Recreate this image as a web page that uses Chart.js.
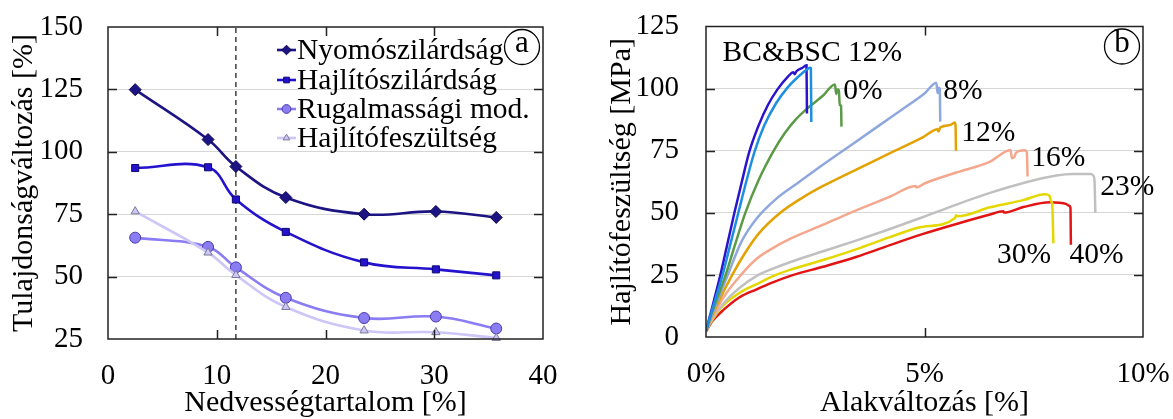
<!DOCTYPE html>
<html>
<head>
<meta charset="utf-8">
<script src="https://cdn.jsdelivr.net/npm/chart.js@4.4.1/dist/chart.umd.min.js"></script>
<style>
  html, body { margin: 0; padding: 0; background: #fff; }
  body { width: 1173px; height: 419px; overflow: hidden; position: relative; }
  canvas { position: absolute; top: 0; }
</style>
</head>
<body>
<canvas id="chartA" width="575" height="419" style="left:0"></canvas>
<canvas id="chartB" width="598" height="419" style="left:575px"></canvas>
<script>
// ---- (a) property change vs. moisture content ----
const moisture     = [2.5, 9.2, 11.76, 16.35, 23.55, 30.15, 35.7];
const nyomo        = [124.9, 104.9, 94.1, 81.7, 75.0, 76.1, 73.7];
const hajlitoSzil  = [93.5, 93.8, 80.9, 67.9, 55.7, 52.9, 50.5];
const rugalmassag  = [65.6, 61.9, 53.7, 41.5, 33.4, 34.0, 29.2];
const hajlitoFesz  = [76.1, 59.6, 50.6, 37.8, 28.4, 27.7, 25.4];
const fiberSatX    = 11.76;
const seriesNamesA = ['Nyomószilárdság', 'Hajlítószilárdság', 'Rugalmassági mod.', 'Hajlítófeszültség'];
const xTicksA = [0, 10, 20, 30, 40];
const yTicksA = [25, 50, 75, 100, 125, 150];

// ---- (b) bending stress–strain curves (strain %, stress MPa) ----
const bcDark  = [[0,2.5],[0.15,12.5],[0.33,25],[0.49,37.5],[0.65,50],[0.82,62.5],[0.99,74.5],[1.2,85],[1.42,93.5],[1.64,99.8],[1.85,104.3],[2.0,106.6],[2.03,105.8],[2.07,107],[2.2,108.3],[2.3,109.4],[2.31,90]];
const bcLight = [[0,2.5],[0.15,11.5],[0.38,25],[0.56,37.5],[0.74,50],[0.92,62.5],[1.11,74.5],[1.33,85],[1.6,94],[1.87,100.5],[2.1,104.6],[2.3,107.6],[2.38,108.4],[2.4,108.2],[2.41,86.6]];
const mc0  = [[0,2.5],[0.15,10.5],[0.45,25],[0.67,37.5],[0.9,50],[1.2,63],[1.55,75],[1.8,82],[2.05,87.5],[2.35,92.5],[2.68,97.2],[2.95,101.7],[2.98,97.8],[3.01,99.6],[3.04,99.3],[3.06,93.5],[3.09,93],[3.1,84.7]];
const mc8  = [[0,2.5],[0.15,9.5],[0.5,25],[0.8,38],[1.15,47.5],[1.6,55.5],[2.1,62],[2.65,69],[3.3,77],[3.95,85],[4.6,93],[5.0,98],[5.27,102.4],[5.3,98.2],[5.33,100.3],[5.35,99.8],[5.36,86.7]];
const mc12 = [[0,2.5],[0.15,9],[0.6,25],[0.9,34],[1.2,41.5],[1.7,50],[2.2,56],[2.68,60.8],[3.45,67.5],[4.21,74],[4.97,80.5],[5.3,83.6],[5.32,82.7],[5.36,84.3],[5.6,85.4],[5.69,86.4],[5.71,85.2],[5.72,75]];
const mc16 = [[0,2.5],[0.15,8],[0.4,16],[0.8,25],[1.16,31.5],[1.5,35.5],[1.92,39.5],[2.68,45.2],[3.3,50],[4.21,56.5],[4.8,60.8],[4.82,60.2],[5.0,61.8],[5.73,66.2],[6.5,70.6],[6.97,75.3],[7.0,72],[7.05,72.3],[7.1,74.3],[7.3,75.2],[7.34,74.5],[7.36,64.6]];
const mc23 = [[0,2.5],[0.15,7.5],[0.4,13.5],[0.77,19.8],[1.2,25],[1.5,27.3],[1.92,30.1],[2.68,34.5],[3.45,38.9],[4.21,43.5],[4.97,48.3],[5.73,53.3],[6.5,58],[7.26,62],[8.02,65],[8.39,65.6],[8.81,65.6],[8.87,64.8],[8.89,63],[8.91,49.9]];
const mc30 = [[0,2.5],[0.15,7],[0.4,12.8],[0.77,17.8],[1.16,21.3],[1.6,25],[1.92,27],[2.68,31],[3.45,35.4],[4.21,40.2],[4.97,44.4],[5.7,47.9],[5.72,49],[5.76,48.6],[6.5,52.2],[7.26,55.1],[7.76,57.5],[7.86,56.8],[7.9,54.5],[7.92,54],[7.95,37.7]];
const mc40 = [[0,2.2],[0.15,6.5],[0.4,10.9],[0.77,16],[1.16,19.2],[1.5,21.8],[2.0,25],[2.68,28.3],[3.45,32.3],[4.21,37],[4.97,41.5],[5.73,45.5],[6.5,49.3],[6.8,50.6],[6.82,50.1],[7.26,52.3],[7.87,54.2],[8.25,53.5],[8.31,52.8],[8.34,52],[8.35,37.1]];
const xTicksB = [0, 5, 10];
const yTicksB = [0, 25, 50, 75, 100, 125];

const SERIF = '"Liberation Serif", "Times New Roman", serif';
Chart.defaults.font.family = SERIF;
Chart.defaults.color = '#000';
Chart.defaults.animation = false;

const toXY = (xs, ys) => xs.map((x, i) => ({ x, y: ys[i] }));
const pairs = arr => arr.map(([x, y]) => ({ x, y }));

// box around the plot with short inward ticks on all four sides
const framePlugin = {
  id: 'frame',
  afterDraw(chart) {
    const { ctx, chartArea: a, scales: { x, y } } = chart;
    ctx.save();
    ctx.strokeStyle = '#222';
    ctx.lineWidth = 1.5;
    ctx.strokeRect(a.left, a.top, a.width, a.height);
    ctx.beginPath();
    x.ticks.forEach(t => {
      if (t.value <= x.min || t.value >= x.max) return;
      const px = Math.round(x.getPixelForValue(t.value)) + 0.5;
      ctx.moveTo(px, a.bottom); ctx.lineTo(px, a.bottom - 9);
      ctx.moveTo(px, a.top); ctx.lineTo(px, a.top + 9);
    });
    y.ticks.forEach(t => {
      if (t.value <= y.min || t.value >= y.max) return;
      const py = Math.round(y.getPixelForValue(t.value)) + 0.5;
      ctx.moveTo(a.left, py); ctx.lineTo(a.left + 9, py);
      ctx.moveTo(a.right, py); ctx.lineTo(a.right - 9, py);
    });
    ctx.stroke();
    ctx.restore();
  }
};

// circled panel letter in the upper-right corner
function panelLetter(letter, dx, dy) {
  return {
    id: 'panel' + letter,
    afterDraw(chart) {
      const { ctx, chartArea: a } = chart;
      const cx = a.right + dx, cy = a.top + dy;
      ctx.save();
      ctx.beginPath();
      ctx.arc(cx, cy, 17.5, 0, Math.PI * 2);
      ctx.fillStyle = '#fff';
      ctx.fill();
      ctx.lineWidth = 1.3;
      ctx.strokeStyle = '#000';
      ctx.stroke();
      ctx.fillStyle = '#000';
      ctx.font = '31px ' + SERIF;
      ctx.textAlign = 'center';
      ctx.textBaseline = 'middle';
      ctx.fillText(letter, cx, cy - 3);
      ctx.restore();
    }
  };
}

// line+marker legend drawn inside the plot
const legendPlugin = {
  id: 'inlineLegend',
  afterDatasetsDraw(chart) {
    const { ctx, chartArea: a } = chart;
    const x0 = a.left + 169, rowY = [23, 53, 82, 111];
    ctx.save();
    seriesNamesA.forEach((name, i) => {
      const ds = chart.data.datasets[i];
      const y = a.top + rowY[i];
      ctx.strokeStyle = ds.borderColor;
      ctx.lineWidth = ds.borderWidth;
      ctx.beginPath();
      ctx.moveTo(x0, y); ctx.lineTo(x0 + 19, y);
      ctx.stroke();
      ctx.fillStyle = ds.pointBackgroundColor;
      ctx.strokeStyle = ds.pointBorderColor;
      ctx.lineWidth = 1;
      Chart.helpers.drawPoint(ctx, { pointStyle: ds.pointStyle, radius: ds.pointRadius * 0.8, rotation: 0, borderWidth: 1 }, x0 + 9.5, y);
      ctx.fillStyle = '#000';
      ctx.font = '29.5px ' + SERIF;
      ctx.textAlign = 'left';
      ctx.textBaseline = 'middle';
      ctx.fillText(name, x0 + 20, y + 1);
    });
    ctx.restore();
  }
};

// end-of-curve text labels placed in data coordinates
const curveLabelText = ['BC&BSC 12%', '0%', '8%', '12%', '16%', '23%', '30%', '40%'];
const curveLabelAt   = [[0.38, 114.3], [3.14, 99], [5.43, 99], [5.84, 82.1], [7.44, 72.1], [9.02, 60.4], [6.66, 33], [8.32, 33]];
const curveLabelPlugin = {
  id: 'curveLabels',
  afterDatasetsDraw(chart) {
    const { ctx, scales: { x, y } } = chart;
    ctx.save();
    ctx.fillStyle = '#000';
    ctx.font = '29.5px ' + SERIF;
    ctx.textAlign = 'left';
    ctx.textBaseline = 'middle';
    curveLabelText.forEach((t, i) => {
      const [vx, vy] = curveLabelAt[i];
      ctx.fillText(t, x.getPixelForValue(vx), y.getPixelForValue(vy));
    });
    ctx.restore();
  }
};

const gridColor = (lo, hi) => c => (c.tick && (c.tick.value === lo || c.tick.value === hi)) ? 'rgba(0,0,0,0)' : '#d6d6d6';

// fixed axis boxes so the plot areas land where they should
const fixX = h => s => { s.height = h; s.paddingLeft = 0; s.paddingRight = 0; };
const fixY = w => s => { s.width = w; s.paddingTop = 0; s.paddingBottom = 0; };

// ---------- chart (a) ----------
const markerSeries = (label, ys, line, fill, edge, style, r, order) => ({
  label, data: toXY(moisture, ys),
  borderColor: line, borderWidth: 2.6, tension: 0.4,
  pointStyle: style, pointRadius: r, pointBackgroundColor: fill, pointBorderColor: edge, pointBorderWidth: 1,
  clip: false, order
});

new Chart(document.getElementById('chartA'), {
  type: 'line',
  data: {
    datasets: [
      markerSeries(seriesNamesA[0], nyomo,       '#1d1483', '#1d1483', '#0b0650', 'rectRot', 6, 1),
      markerSeries(seriesNamesA[1], hajlitoSzil, '#2412cc', '#2412cc', '#0e0870', 'rect', 5, 2),
      markerSeries(seriesNamesA[2], rugalmassag, '#8a7cf2', '#8a7cf2', '#4a3aa8', 'circle', 5.5, 4),
      markerSeries(seriesNamesA[3], hajlitoFesz, '#cdc6f6', '#cdc6f6', '#7a7a98', 'triangle', 4.8, 3),
      {
        label: 'fsp', data: [{ x: fiberSatX, y: yTicksA[0] }, { x: fiberSatX, y: yTicksA[yTicksA.length - 1] }],
        borderColor: '#222', borderWidth: 1.3, borderDash: [5, 4], pointRadius: 0, order: 10
      }
    ]
  },
  options: {
    responsive: false,
    layout: { padding: { top: 27, right: 32, left: 0, bottom: 0 } },
    plugins: { legend: { display: false }, tooltip: { enabled: false } },
    scales: {
      x: {
        type: 'linear', min: xTicksA[0], max: xTicksA[xTicksA.length - 1],
        afterBuildTicks: s => { s.ticks = xTicksA.map(v => ({ value: v })); },
        afterFit: fixX(80),
        grid: { display: false }, border: { display: false },
        ticks: { padding: 12, font: { size: 29 }, maxRotation: 0 },
        title: { display: true, text: 'Nedvességtartalom [%]', font: { size: 30, lineHeight: 1 }, padding: { top: 0, bottom: 0.5 } }
      },
      y: {
        min: yTicksA[0], max: yTicksA[yTicksA.length - 1],
        afterBuildTicks: s => { s.ticks = yTicksA.map(v => ({ value: v })); },
        afterFit: fixY(108),
        grid: { color: gridColor(25, 150), lineWidth: 1, drawTicks: false }, border: { display: false },
        ticks: { padding: 25, font: { size: 29 } },
        title: { display: true, text: 'Tulajdonságváltozás [%]', font: { size: 30, lineHeight: 1 }, padding: { top: 9, bottom: 0 } }
      }
    }
  },
  plugins: [framePlugin, legendPlugin, panelLetter('a', -21, 20)]
});

// ---------- chart (b) ----------
const curve = (pts, color, order) => ({
  data: pairs(pts), borderColor: color, borderWidth: 2.5, pointRadius: 0,
  cubicInterpolationMode: 'monotone', order
});

new Chart(document.getElementById('chartB'), {
  type: 'line',
  data: {
    datasets: [
      curve(bcLight, '#1c8fe0', 1),
      curve(bcDark,  '#2c14cc', 2),
      curve(mc0,  '#5b9a47', 3),
      curve(mc8,  '#8ea7dc', 4),
      curve(mc12, '#e4a202', 5),
      curve(mc16, '#f5a78d', 6),
      curve(mc23, '#c0c0c0', 7),
      curve(mc30, '#e4d800', 8),
      curve(mc40, '#e31414', 9)
    ]
  },
  options: {
    responsive: false,
    layout: { padding: { top: 26.5, right: 30, left: 0, bottom: 0 } },
    plugins: { legend: { display: false }, tooltip: { enabled: false } },
    scales: {
      x: {
        type: 'linear', min: xTicksB[0], max: xTicksB[xTicksB.length - 1],
        afterBuildTicks: s => { s.ticks = xTicksB.map(v => ({ value: v })); },
        afterFit: fixX(82),
        grid: { display: false }, border: { display: false },
        ticks: { padding: 12, font: { size: 29 }, maxRotation: 0, callback: v => v + '%' },
        title: { display: true, text: 'Alakváltozás [%]', font: { size: 30, lineHeight: 1 }, padding: { top: 0, bottom: 1 } }
      },
      y: {
        min: yTicksB[0], max: yTicksB[yTicksB.length - 1],
        afterBuildTicks: s => { s.ticks = yTicksB.map(v => ({ value: v })); },
        afterFit: fixY(131),
        grid: { color: gridColor(0, 125), lineWidth: 1, drawTicks: false }, border: { display: false },
        ticks: { padding: 27, font: { size: 29 } },
        title: { display: true, text: 'Hajlítófeszültség [MPa]', font: { size: 30, lineHeight: 1 }, padding: { top: 32, bottom: 0 } }
      }
    }
  },
  plugins: [framePlugin, curveLabelPlugin, panelLetter('b', -21, 20)]
});
</script>
</body>
</html>
